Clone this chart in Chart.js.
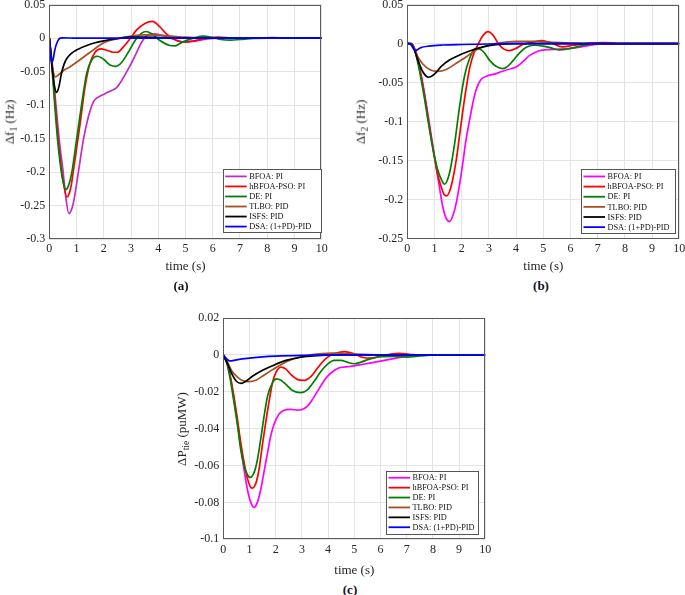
<!DOCTYPE html>
<html><head><meta charset="utf-8">
<script src="https://cdn.jsdelivr.net/npm/chart.js@4.4.1/dist/chart.umd.min.js"></script>
<style>
html,body{margin:0;padding:0;background:#fff;overflow:hidden;width:685px;height:595px;position:relative;}
.box{position:absolute;}
.ylab{position:absolute;font-family:"Liberation Serif",serif;font-size:13px;color:#262626;transform:translate(-50%,-50%) rotate(-90deg);white-space:nowrap;line-height:1;}
.ylab sub{font-size:9.5px;vertical-align:-3px;}
.cap{position:absolute;font-family:"Liberation Serif",serif;font-weight:bold;font-size:13px;color:#111;transform:translate(-50%,-50%);white-space:nowrap;}
</style></head><body>
<div class="box" style="left:0px;top:-10px;width:335px;height:284px"><canvas id="cA"></canvas></div>
<div class="box" style="left:360px;top:-10px;width:330px;height:284px"><canvas id="cB"></canvas></div>
<div class="box" style="left:170px;top:300px;width:330px;height:278px"><canvas id="cC"></canvas></div>
<div class="ylab" style="left:11px;top:122px">&Delta;f<sub>1</sub> (Hz)</div>
<div class="ylab" style="left:362px;top:122px">&Delta;f<sub>2</sub> (Hz)</div>
<div class="ylab" style="left:183px;top:429px">&Delta;P<sub>tie</sub> (puMW)</div>
<div class="cap" style="left:181px;top:286px">(a)</div>
<div class="cap" style="left:541px;top:286px">(b)</div>
<div class="cap" style="left:350px;top:590px">(c)</div>
<script>
// ---------- tick labels / categories ----------
const timeTicks = [0,1,2,3,4,5,6,7,8,9,10];
const yTicksA = [0.05,0,-0.05,-0.1,-0.15,-0.2,-0.25,-0.3];
const yTicksB = [0.05,0,-0.05,-0.1,-0.15,-0.2,-0.25];
const yTicksC = [0.02,0,-0.02,-0.04,-0.06,-0.08,-0.1];
const seriesNames = ["BFOA: PI","hBFOA-PSO: PI","DE: PI","TLBO: PID","ISFS: PID","DSA: (1+PD)-PID"];

// ---------- (a) Δf1 [time s, Hz] ----------
const f1_BFOA = [[0,0],[0.1,-0.035],[0.2,-0.08],[0.3,-0.125],[0.4,-0.165],[0.5,-0.197],[0.6,-0.236],[0.72,-0.262],[0.88,-0.247],[1.06,-0.202],[1.25,-0.152],[1.43,-0.118],[1.62,-0.095],[1.8,-0.088],[2.04,-0.083],[2.29,-0.078],[2.47,-0.074],[2.66,-0.063],[2.9,-0.046],[3.15,-0.026],[3.39,-0.006],[3.63,0.005],[3.88,0.0065],[4.25,0.0025],[4.6,-0.002],[5.0,-0.006],[5.4,-0.004],[5.8,-0.001],[6.5,0.0005],[7.2,0],[10,0]];
const f1_hBFOA = [[0,0],[0.1,-0.04],[0.2,-0.09],[0.3,-0.14],[0.4,-0.18],[0.5,-0.212],[0.65,-0.237],[0.78,-0.225],[0.94,-0.182],[1.13,-0.128],[1.31,-0.073],[1.49,-0.038],[1.68,-0.021],[1.9,-0.016],[2.1,-0.018],[2.35,-0.021],[2.5,-0.021],[2.72,-0.013],[2.96,-0.001],[3.2,0.012],[3.51,0.022],[3.78,0.025],[4.06,0.017],[4.31,0.006],[4.6,-0.002],[4.9,-0.006],[5.3,-0.004],[5.8,0],[6.2,0.0015],[6.8,0],[7.5,0],[8.2,0.001],[9,0],[10,0]];
const f1_DE = [[0,0],[0.1,-0.045],[0.2,-0.1],[0.3,-0.15],[0.4,-0.187],[0.5,-0.213],[0.61,-0.226],[0.7,-0.221],[0.82,-0.202],[1.0,-0.152],[1.19,-0.098],[1.37,-0.053],[1.55,-0.033],[1.76,-0.027],[1.98,-0.031],[2.23,-0.04],[2.44,-0.042],[2.66,-0.036],[2.9,-0.021],[3.15,-0.0035],[3.39,0.0075],[3.54,0.01],[3.76,0.0065],[4.06,-0.0035],[4.43,-0.011],[4.6,-0.0115],[4.8,-0.008],[5.0,-0.004],[5.3,0],[5.65,0.003],[6.0,0.001],[6.3,-0.002],[6.65,-0.003],[7.0,-0.002],[7.5,-0.0005],[8,0],[10,0]];
const f1_TLBO = [[0,0],[0.05,-0.02],[0.1,-0.038],[0.15,-0.051],[0.22,-0.058],[0.3,-0.056],[0.5,-0.049],[0.75,-0.043],[1.0,-0.036],[1.5,-0.021],[2.0,-0.007],[2.5,-0.001],[3.0,0.003],[3.5,0.005],[4.0,0.0045],[4.5,0.003],[5.0,0.0015],[6.0,0],[10,0]];
const f1_ISFS = [[0,0],[0.05,-0.02],[0.1,-0.042],[0.15,-0.06],[0.2,-0.074],[0.27,-0.081],[0.35,-0.073],[0.45,-0.052],[0.55,-0.038],[0.65,-0.03],[0.8,-0.023],[1.0,-0.0176],[1.5,-0.009],[2.0,-0.004],[2.5,-0.0005],[3.0,0.0015],[3.5,0.0015],[4.5,0.0005],[5.5,0],[10,0]];
const f1_DSA = [[0,0],[0.05,-0.025],[0.1,-0.036],[0.15,-0.03],[0.2,-0.018],[0.3,-0.005],[0.4,0],[0.5,0.0005],[1,0],[10,0]];

// ---------- (b) Δf2 [time s, Hz] ----------
const f2_BFOA = [[0,0],[0.15,0],[0.21,-0.002],[0.33,-0.012],[0.45,-0.03],[0.57,-0.051],[0.7,-0.078],[0.82,-0.104],[0.94,-0.131],[1.06,-0.158],[1.19,-0.186],[1.31,-0.21],[1.43,-0.224],[1.55,-0.228],[1.67,-0.221],[1.8,-0.204],[1.92,-0.181],[2.04,-0.153],[2.16,-0.123],[2.29,-0.098],[2.41,-0.076],[2.53,-0.059],[2.71,-0.046],[2.96,-0.041],[3.2,-0.039],[3.45,-0.036],[3.7,-0.033],[4.0,-0.03],[4.25,-0.023],[4.5,-0.015],[4.85,-0.009],[5.2,-0.0075],[5.6,-0.007],[6.0,-0.006],[6.4,-0.004],[6.8,-0.0015],[7.2,0],[10,0]];
const f2_hBFOA = [[0,0],[0.15,0],[0.27,-0.007],[0.39,-0.022],[0.51,-0.042],[0.64,-0.068],[0.76,-0.095],[0.88,-0.121],[1.0,-0.146],[1.12,-0.168],[1.25,-0.184],[1.35,-0.193],[1.45,-0.195],[1.61,-0.183],[1.8,-0.149],[1.98,-0.102],[2.16,-0.058],[2.3,-0.03],[2.45,-0.012],[2.6,-0.001],[2.75,0.009],[2.97,0.0155],[3.15,0.011],[3.35,0],[3.55,-0.007],[3.75,-0.009],[4.0,-0.006],[4.24,-0.001],[4.61,0.002],[4.95,0.004],[5.3,0.001],[5.7,-0.004],[6.1,-0.002],[6.6,0.0005],[7.2,0.0015],[7.7,0.0005],[8.2,0],[10,0]];
const f2_DE = [[0,0],[0.15,0],[0.27,-0.008],[0.39,-0.025],[0.51,-0.046],[0.64,-0.072],[0.76,-0.098],[0.88,-0.123],[1.0,-0.145],[1.12,-0.162],[1.25,-0.174],[1.37,-0.18],[1.55,-0.166],[1.74,-0.128],[1.92,-0.081],[2.1,-0.042],[2.29,-0.019],[2.5,-0.007],[2.65,-0.007],[2.84,-0.012],[3.02,-0.021],[3.26,-0.029],[3.51,-0.032],[3.69,-0.029],[3.88,-0.022],[4.12,-0.012],[4.36,-0.005],[4.65,-0.002],[5.0,-0.003],[5.34,-0.006],[5.6,-0.008],[6.0,-0.006],[6.5,-0.002],[7.0,0],[7.6,-0.0005],[8,0],[10,0]];
const f2_TLBO = [[0,0],[0.1,0],[0.21,-0.004],[0.39,-0.017],[0.57,-0.026],[0.82,-0.033],[1.12,-0.0355],[1.43,-0.033],[1.8,-0.025],[2.16,-0.017],[2.53,-0.008],[2.9,-0.003],[3.39,0.001],[4.0,0.003],[4.73,0.003],[5.34,0.0017],[6,0.0008],[7,0],[10,0]];
const f2_ISFS = [[0,0],[0.1,0],[0.21,-0.004],[0.39,-0.021],[0.57,-0.036],[0.78,-0.043],[1.0,-0.039],[1.25,-0.029],[1.55,-0.021],[1.92,-0.0145],[2.29,-0.0094],[2.78,-0.004],[3.26,-0.0013],[4,0],[10,0]];
const f2_DSA = [[0,0],[0.1,0],[0.2,-0.005],[0.3,-0.009],[0.4,-0.007],[0.5,-0.005],[0.8,-0.003],[1.3,-0.0017],[2,-0.001],[3,-0.0004],[4,0],[10,0]];

// ---------- (c) ΔPtie [time s, puMW] ----------
const pt_BFOA = [[0,0],[0.15,-0.0045],[0.28,-0.013],[0.41,-0.024],[0.54,-0.037],[0.66,-0.049],[0.79,-0.062],[0.92,-0.073],[1.05,-0.08],[1.17,-0.0827],[1.3,-0.08],[1.43,-0.073],[1.56,-0.063],[1.69,-0.053],[1.81,-0.044],[1.94,-0.0375],[2.13,-0.032],[2.32,-0.03],[2.58,-0.0295],[2.84,-0.03],[3.03,-0.0295],[3.22,-0.0277],[3.41,-0.024],[3.67,-0.018],[3.92,-0.0125],[4.18,-0.009],[4.43,-0.007],[4.81,-0.0063],[5.2,-0.0054],[5.58,-0.0045],[6.0,-0.0034],[6.5,-0.002],[7.0,-0.0007],[7.5,0],[10,0]];
const pt_hBFOA = [[0,0],[0.15,-0.0045],[0.28,-0.0125],[0.41,-0.023],[0.54,-0.035],[0.66,-0.047],[0.79,-0.058],[0.92,-0.067],[1.09,-0.0723],[1.24,-0.0697],[1.37,-0.0616],[1.49,-0.049],[1.62,-0.0366],[1.75,-0.025],[1.88,-0.015],[2.0,-0.0098],[2.2,-0.0066],[2.39,-0.0077],[2.58,-0.0107],[2.84,-0.0134],[3.09,-0.0138],[3.35,-0.0116],[3.6,-0.0071],[3.86,-0.0027],[4.11,0],[4.43,0.0014],[4.62,0.0018],[4.94,0.0009],[5.33,-0.0014],[5.6,-0.0018],[6.0,-0.0008],[6.4,0.0004],[6.7,0.0008],[7.1,0.0003],[7.6,-0.0002],[8.2,0],[10,0]];
const pt_DE = [[0,0],[0.15,-0.0054],[0.28,-0.0143],[0.41,-0.026],[0.54,-0.038],[0.66,-0.051],[0.79,-0.06],[0.92,-0.065],[1.02,-0.0664],[1.17,-0.064],[1.3,-0.057],[1.43,-0.0455],[1.56,-0.033],[1.69,-0.0223],[1.88,-0.015],[2.03,-0.013],[2.2,-0.0138],[2.39,-0.016],[2.64,-0.0193],[2.96,-0.0205],[3.22,-0.0188],[3.47,-0.0143],[3.73,-0.0089],[3.98,-0.005],[4.24,-0.003],[4.5,-0.003],[4.75,-0.0041],[5.0,-0.0048],[5.26,-0.0039],[5.58,-0.0023],[6.0,-0.001],[6.5,-0.0008],[7.0,-0.0012],[7.5,-0.0006],[8,0],[10,0]];
const pt_TLBO = [[0,0],[0.15,-0.0036],[0.34,-0.009],[0.54,-0.012],[0.73,-0.0139],[0.98,-0.0145],[1.24,-0.0138],[1.49,-0.0116],[1.88,-0.008],[2.26,-0.0048],[2.64,-0.0023],[3.15,-0.0005],[3.67,0.0005],[4.18,0.0009],[4.94,0.0005],[5.58,0.0002],[6.5,0],[10,0]];
const pt_ISFS = [[0,0],[0.15,-0.0045],[0.34,-0.0107],[0.5,-0.0143],[0.68,-0.0155],[0.86,-0.0143],[1.11,-0.0116],[1.43,-0.0089],[1.88,-0.0059],[2.39,-0.003],[2.9,-0.0014],[3.54,-0.0004],[4.18,0],[10,0]];
const pt_DSA = [[0,0],[0.1,-0.0018],[0.25,-0.0033],[0.5,-0.0027],[1,-0.0018],[1.5,-0.0011],[2,-0.0007],[3,-0.0003],[4,-0.0001],[5,0],[10,0]];

// ---------- styling ----------
const FONT = '"Liberation Serif", "Times New Roman", serif';
const colorsA = ['#c42cc4','#ff0000','#008000','#a5501e','#000000','#0000ff'];
const colorsBC = ['#ff00ff','#ff0000','#008000','#a5501e','#000000','#0000ff'];

const framePlugin = {
  id: 'frame',
  afterDatasetsDraw(chart, args, opts) {
    const ctx = chart.ctx, a = chart.chartArea;
    ctx.save();
    // axes box
    ctx.strokeStyle = '#5a5a5a'; ctx.lineWidth = 1;
    ctx.strokeRect(Math.round(a.left) + 0.5, Math.round(a.top) + 0.5, Math.round(a.right - a.left) - 1, Math.round(a.bottom - a.top) - 1);
    // legend inside axes
    const L = opts.box;
    const x0 = a.right - L.dr - L.w, y0 = a.bottom - L.db - L.h;
    ctx.fillStyle = '#ffffff';
    ctx.fillRect(x0, y0, L.w, L.h);
    ctx.strokeStyle = '#555555'; ctx.lineWidth = 1;
    ctx.strokeRect(Math.round(x0) + 0.5, Math.round(y0) + 0.5, Math.round(L.w), Math.round(L.h));
    const ds = chart.data.datasets, n = ds.length, pad = 1.6;
    const rowH = (L.h - 2 * pad) / n;
    ctx.font = '8.3px ' + FONT;
    ctx.textBaseline = 'middle'; ctx.textAlign = 'left';
    ds.forEach((d, i) => {
      const cy = y0 + pad + rowH * (i + 0.5) + 0.5;
      ctx.strokeStyle = d.borderColor; ctx.lineWidth = 1.8;
      ctx.beginPath(); ctx.moveTo(x0 + 2.5, cy); ctx.lineTo(x0 + 24, cy); ctx.stroke();
      ctx.fillStyle = '#111';
      ctx.fillText(d.label, x0 + 26.5, cy + 0.5);
    });
    ctx.restore();
  }
};

function fmt(v) { return String(Math.round(v * 1e4) / 1e4); }

function makeChart(id, seriesList, colors, yTicks, g) {
  const datasets = seriesList.map((s, i) => ({
    label: seriesNames[i],
    data: s.map(p => ({x: p[0], y: p[1]})),
    borderColor: colors[i],
    backgroundColor: colors[i],
    borderWidth: 1.7,
    pointRadius: 0,
    fill: false,
    cubicInterpolationMode: 'monotone',
    order: seriesList.length - 1 - i
  }));
  return new Chart(document.getElementById(id), {
    type: 'line',
    data: {datasets},
    plugins: [framePlugin],
    options: {
      responsive: true, maintainAspectRatio: false, animation: false,
      layout: {padding: {top: g.padTop, right: g.padRight, left: 0, bottom: 0}},
      plugins: {legend: {display: false}, tooltip: {enabled: false}, frame: {box: g.legend}},
      scales: {
        x: {
          type: 'linear', min: 0, max: 10,
          afterBuildTicks: s => { s.ticks = timeTicks.map(v => ({value: v})); },
          afterFit: s => { s.height = g.xH; },
          grid: {color: '#e4e4e4', drawTicks: false, lineWidth: 1},
          border: {display: false},
          ticks: {font: {family: FONT, size: 12}, color: '#262626', padding: 3, maxRotation: 0, autoSkip: false},
          title: {display: true, text: 'time (s)', font: {family: FONT, size: 13}, color: '#262626', padding: 0}
        },
        y: {
          type: 'linear', min: yTicks[yTicks.length - 1], max: yTicks[0],
          afterBuildTicks: s => { s.ticks = yTicks.slice().reverse().map(v => ({value: v})); },
          afterFit: s => { s.width = g.yW; },
          grid: {color: '#e4e4e4', drawTicks: false, lineWidth: 1},
          border: {display: false},
          ticks: {font: {family: FONT, size: 12}, color: '#262626', padding: 4, autoSkip: false, callback: v => fmt(v)}
        }
      }
    }
  });
}

makeChart('cA', [f1_BFOA, f1_hBFOA, f1_DE, f1_TLBO, f1_ISFS, f1_DSA], colorsA, yTicksA,
  {padTop: 14.7, padRight: 13.3, yW: 49.3, xH: 35, legend: {dr: 0.7, db: 6.3, w: 98.3, h: 63.4}});
makeChart('cB', [f2_BFOA, f2_hBFOA, f2_DE, f2_TLBO, f2_ISFS, f2_DSA], colorsBC, yTicksB,
  {padTop: 14.7, padRight: 10.7, yW: 47.3, xH: 35.3, legend: {dr: 4.3, db: 5.4, w: 94, h: 64}});
makeChart('cC', [pt_BFOA, pt_hBFOA, pt_DE, pt_TLBO, pt_ISFS, pt_DSA], colorsBC, yTicksC,
  {padTop: 18, padRight: 14.7, yW: 53.3, xH: 38.7, legend: {dr: 7, db: 6, w: 92.3, h: 62.6}});
</script>
</body></html>
